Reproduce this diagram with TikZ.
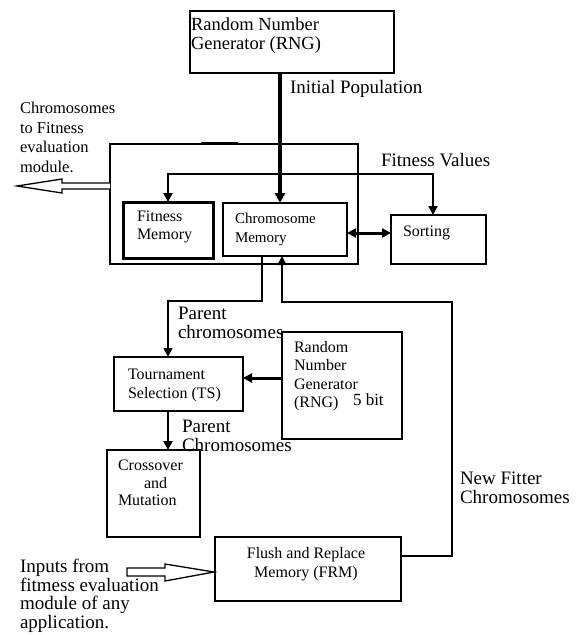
\documentclass[tikz,border=0pt]{standalone}
\usepackage{fontspec}
\setmainfont{Liberation Serif}
\usetikzlibrary{arrows.meta}
\newcommand\fsz[2]{\fontsize{#1pt}{#2pt}\selectfont}
\begin{document}
\begin{tikzpicture}[x=1pt,y=-1pt,
  box/.style={draw,line width=2pt,inner sep=0pt,outer sep=0pt,anchor=north west},
  txt/.style={inner sep=0pt,outer sep=0pt,anchor=north west,align=left},
  tip/.style={-{Triangle[length=9pt,width=9pt]}},
  tips/.style={{Triangle[length=9pt,width=9pt]}-{Triangle[length=9pt,width=9pt]}},
  hollow/.style={draw,line width=1.3pt,fill=white,line join=miter}]
\useasboundingbox (0,0) rectangle (579,635);

% boxes
\node[box,minimum width=204pt,minimum height=62pt] (rng) at (190,11) {};
\node[box,line width=2.3pt,minimum width=248pt,minimum height=120pt] (outer) at (110,144) {};
\node[box,line width=3pt,minimum width=90pt,minimum height=56pt] (fm) at (123,202) {};
\node[box,minimum width=124pt,minimum height=53pt] (cm) at (223,203) {};
\node[box,minimum width=95pt,minimum height=49pt] (sort) at (391,215) {};
\node[box,minimum width=129pt,minimum height=54pt] (ts) at (114,357) {};
\node[box,minimum width=120pt,minimum height=107pt] (rng2) at (282,332) {};
\node[box,minimum width=93pt,minimum height=87pt] (cx) at (107,450) {};
\node[box,minimum width=186pt,minimum height=64pt] (frm) at (215,537) {};

% small mark on top of outer box
\draw[line width=2.6pt] (201,143) -- (238,143);

% texts
\node[txt,font=\fsz{18.5}{19}] (rngT) at (191,18) {Random Number\\Generator (RNG)};
\node[txt,font=\fsz{19}{19}] (ipT) at (290,80) {Initial Population};
\node[txt,font=\fsz{16.5}{19.5}] (cfT) at (20,102.5) {Chromosomes\\to Fitness\\evaluation\\module.};
\node[txt,font=\fsz{19}{19}] (fvT) at (381,153) {Fitness Values};
\node[txt,font=\fsz{16}{18}] (fmT) at (137,211) {Fitness\\Memory};
\node[txt,font=\fsz{15}{18.5}] (cmT) at (235,213.5) {Chromosome\\Memory};
\node[txt,font=\fsz{16}{18}] (soT) at (403,226) {Sorting};
\node[txt,font=\fsz{19}{19.2}] (pc1T) at (178,307) {Parent\\chromosomes};
\node[txt,font=\fsz{16}{18.5}] (rng2T) at (294,341) {Random\\Number\\Generator\\(RNG)};
\node[txt,font=\fsz{17}{17}] (bitT) at (353,394) {5 bit};
\node[txt,font=\fsz{16}{19}] (tsT) at (128,369) {Tournament\\Selection (TS)};
\node[txt,font=\fsz{19}{19}] (pc2T) at (182,420) {Parent\\Chromosomes};
\node[txt,font=\fsz{16}{17.5}] (cxT) at (118,460) {Crossover\\\hspace*{26pt}and\\Mutation};
\node[txt,font=\fsz{16}{19},align=center,anchor=north] (frmT) at (306,547) {Flush and Replace\\Memory (FRM)};
\node[txt,font=\fsz{19}{19}] (nfT) at (460,472) {New Fitter\\Chromosomes};
\node[txt,font=\fsz{19}{18.8}] (inT) at (20,559) {Inputs from\\fitmess evaluation\\module of any\\application.};

% connectors
\coordinate (ipx) at (280,0);
\draw[line width=3.6pt,-{Triangle[length=10pt,width=10pt]}] (rng.south -| ipx) -- (cm.north -| ipx);

\coordinate (fvL) at (168,174);
\coordinate (fvR) at (433,174);
\draw[line width=2pt,tips] (fm.north -| fvL) -- (fvL) -- (fvR) -- (sort.north -| fvR);

\coordinate (dy) at (0,233);
\draw[line width=3pt,tips] (cm.east |- dy) -- (sort.west |- dy);

\coordinate (c1) at (262,301);
\coordinate (c2) at (168,301);
\draw[line width=1.7pt,tip] (cm.south -| c1) -- (c1) -- (c2) -- (ts.north -| c2);

\coordinate (r1) at (452,556);
\coordinate (r2) at (452,302);
\coordinate (r3) at (282,302);
\draw[line width=1.7pt,tip] (frm.east |- r1) -- (r1) -- (r2) -- (r3) -- (cm.south -| r3);

\coordinate (ry) at (0,378);
\draw[line width=3pt,tip] (rng2.west |- ry) -- (ts.east |- ry);

\coordinate (tx) at (168,0);
\draw[line width=2.5pt,tip] (ts.south -| tx) -- (cx.north -| tx);

% hollow arrows
\draw[hollow] (110,183) -- (62,183) -- (62,179) -- (17,186) -- (62,193) -- (62,189) -- (110,189);
\draw[hollow] (127,568) -- (165,568) -- (165,564) -- (214,572) -- (165,581) -- (165,576) -- (127,576) -- cycle;
\end{tikzpicture}
\end{document}
